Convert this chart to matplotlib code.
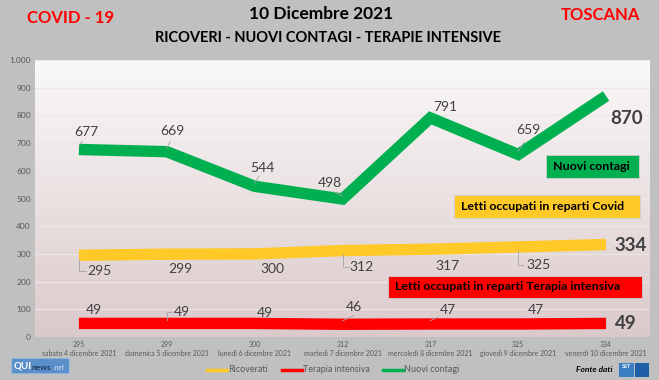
import matplotlib
matplotlib.use("Agg")
import matplotlib.pyplot as plt
from matplotlib.patches import FancyBboxPatch, Rectangle
import numpy as np

dates = ["sabato 4 dicembre 2021", "domenica 5 dicembre 2021", "lunedì 6 dicembre 2021",
         "martedì 7 dicembre 2021", "mercoledì 8 dicembre 2021", "giovedì 9 dicembre 2021",
         "venerdì 10 dicembre 2021"]
ricoverati = [295, 299, 300, 312, 317, 325, 334]
terapia = [49, 49, 49, 46, 47, 47, 49]
contagi = [677, 669, 544, 498, 791, 659, 870]

C_Y = "#ffc928"
C_R = "#ff0000"
C_G = "#00b050"
TXT = "#404040"
LEAD = "#a6a6a6"
FONT = ["Lato", "DejaVu Sans"]
plt.rcParams["font.family"] = FONT

W, H = 659, 380
fig = plt.figure(figsize=(W / 100, H / 100), dpi=100)
fig.patch.set_facecolor("#c0c0c0")

L, R, T, B = 35, 650, 60, 337
ax = fig.add_axes([L / W, 1 - B / H, (R - L) / W, (B - T) / H])
x = np.arange(len(dates))
ax.set_xlim(-0.5, len(dates) - 0.5)

# gradient background (white at top, pinkish at bottom)
grad = np.linspace(0, 1, 256)[:, None]
top = np.array([0.980, 0.975, 0.975])
bot = np.array([0.860, 0.790, 0.795])
img = top[None, None, :] * (1 - grad[..., None]) + bot[None, None, :] * grad[..., None]
ax.imshow(img, extent=[-0.5, len(dates) - 0.5, 0, 1000], origin="upper", aspect="auto", zorder=0)
ax.set_ylim(0, 1000)

ax.set_yticks(np.arange(0, 1001, 100))
ax.set_yticklabels([f"{v:,}".replace(",", ".") for v in range(0, 1001, 100)], fontsize=6, color="#595959")
ax.grid(axis="y", color="#ece6e6", linewidth=0.8, zorder=1)
ax.set_axisbelow(False)
ax.set_xticks(x)
ax.set_xticklabels([f"{r}\n{d}" for r, d in zip(ricoverati, dates)], fontsize=5, color="#595959", linespacing=1.3)
ax.tick_params(length=0, pad=3)
for s in ax.spines.values():
    s.set_visible(False)

lw = 8.2
for vals, c in ((ricoverati, C_Y), (terapia, C_R), (contagi, C_G)):
    ax.plot(x, vals, color=c, lw=lw, solid_joinstyle="miter", solid_capstyle="butt", zorder=3)

# leader lines (thin gray connectors from points to labels)
def diag(i, v, dx, dy):
    ax.plot([x[i], x[i] + dx], [v + np.sign(dy) * 12, v + dy], color=LEAD, lw=0.6, zorder=4)

def ell(i, v, dy, dx):
    ax.plot([x[i], x[i], x[i] + dx], [v + np.sign(dy) * 12, v + dy, v + dy], color=LEAD, lw=0.6, zorder=4)

diag(0, contagi[0], 0.04, 30)
diag(1, contagi[1], 0.04, 38)
diag(2, contagi[2], 0.05, 36)
diag(3, contagi[3], -0.1, 26)
diag(5, contagi[5], 0.07, 45)
ell(0, ricoverati[0], -58, 0.08)
ell(3, ricoverati[3], -60, 0.07)
ell(5, ricoverati[5], -65, 0.06)
ell(1, terapia[1], 42, 0.06)
diag(3, terapia[3], 0.13, 32)
diag(4, terapia[4], 0.09, 26)

# data labels (offsets in data units)
def labels(vals, offs):
    for i, (dx, dy) in enumerate(offs):
        ax.text(x[i] + dx, vals[i] + dy, str(vals[i]), fontsize=10, color=TXT,
                ha="center", va="center", zorder=4)

labels(contagi, [(0.08, 63), (0.06, 73), (0.09, 66), (-0.14, 58), (0.17, 40), (0.11, 88)])
labels(ricoverati, [(0.23, -58), (0.15, -55), (0.2, -55), (0.22, -60), (0.2, -60), (0.23, -65)])
labels(terapia, [(0.17, 48), (0.17, 42), (0.12, 38), (0.13, 61), (0.2, 50), (0.2, 50)])

ax.text(x[-1] + 0.05, contagi[-1] - 80, str(contagi[-1]), fontsize=13.5, fontweight="bold",
        color=TXT, ha="left", va="center", zorder=4)
ax.text(x[-1] + 0.1, ricoverati[-1] - 2, str(ricoverati[-1]), fontsize=13.5, fontweight="bold",
        color=TXT, ha="left", va="center", zorder=4)
ax.text(x[-1] + 0.1, terapia[-1], str(terapia[-1]), fontsize=13.5, fontweight="bold",
        color=TXT, ha="left", va="center", zorder=4)

# legend boxes inside plot
def box(text, fc, x0, y0, x1, y1):
    fig.patches.append(Rectangle((x0 / W, 1 - y1 / H), (x1 - x0) / W, (y1 - y0) / H,
                                 transform=fig.transFigure, facecolor=fc, edgecolor="#d0d0d0",
                                 linewidth=0.6, zorder=5))
    fig.text((x0 + 7) / W, 1 - (y0 + y1) / 2 / H, text, fontsize=8.9, fontweight="bold",
             color="black", ha="left", va="center", zorder=6)

box("Nuovi contagi", C_G, 546, 155, 639, 178)
box("Letti occupati in reparti Covid", C_Y, 454, 195, 640, 218)
box("Letti occupati in reparti Terapia intensiva", C_R, 388, 276, 642, 298)

# titles
fig.text(321 / W, 1 - 14 / H, "10 Dicembre 2021", fontsize=12.5, fontweight="bold", color="black", ha="center", va="center")
fig.text(328 / W, 1 - 38 / H, "RICOVERI - NUOVI CONTAGI - TERAPIE INTENSIVE", fontsize=10.5, fontweight="bold",
         color="black", ha="center", va="center")
fig.text(71 / W, 1 - 18 / H, "COVID - 19", fontsize=12, fontweight="bold", color=C_R, ha="center", va="center")
fig.text(600 / W, 1 - 15 / H, "TOSCANA", fontsize=12, fontweight="bold", color=C_R, ha="center", va="center")

# bottom legend
ly = 1 - 370 / H
for (x0, lab, c) in [(207, "Ricoverati", C_Y), (282, "Terapia intensiva", C_R), (383, "Nuovi contagi", C_G)]:
    fig.add_artist(plt.Line2D([x0 / W, (x0 + 20) / W], [ly, ly], color=c, lw=2.5, transform=fig.transFigure))
    fig.text((x0 + 21) / W, ly, lab, fontsize=6.5, color="#595959", ha="left", va="center")

fig.text(613 / W, ly, "Fonte dati", fontsize=6, style="italic", fontweight="bold", color="black", ha="right", va="center")
fig.patches.append(Rectangle((619 / W, 1 - 377 / H), 15 / W, 14 / H, transform=fig.transFigure,
                             facecolor="#3a7fc4", edgecolor="none"))
fig.patches.append(Rectangle((635 / W, 1 - 377 / H), 14 / W, 14 / H, transform=fig.transFigure,
                             facecolor="#1f5fa8", edgecolor="none"))
fig.text(626 / W, 1 - 366 / H, "SST", fontsize=4, fontweight="bold", color="white", ha="center", va="center")

# logo
fig.patches.append(FancyBboxPatch((13 / W, 1 - 373 / H), 55 / W, 14 / H, transform=fig.transFigure,
                                  boxstyle="round,pad=0.002", facecolor="#5b8fc9", edgecolor="#9fc0e6", lw=0.6))
fig.text(14 / W, 1 - 366 / H, "QUI", fontsize=7, fontweight="bold", color="white", ha="left", va="center")
fig.text(31 / W, 1 - 367 / H, "news", fontsize=6, fontweight="bold", color="#1e3a66", ha="left", va="center")
fig.text(54 / W, 1 - 367 / H, ".net", fontsize=5, style="italic", color="#d5e4f5", ha="left", va="center")

fig.savefig("out.png", dpi=100, facecolor=fig.get_facecolor())
